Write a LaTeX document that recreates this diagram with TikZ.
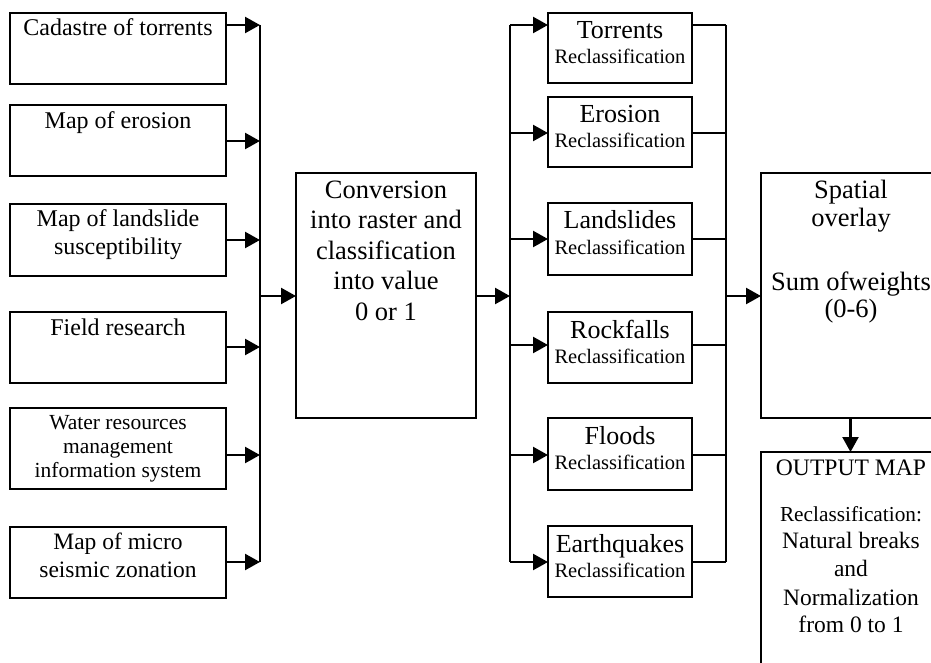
\documentclass[tikz,border=0pt]{standalone}
\usepackage{fontspec}
\setmainfont{Liberation Serif}
\usetikzlibrary{arrows.meta}
\begin{document}
\begin{tikzpicture}[x=1pt,y=-1pt,
  box/.style={draw, line width=2.3pt, inner sep=0pt, outer sep=0pt, anchor=north west},
  ln/.style={line width=2.3pt},
  arr/.style={line width=2.3pt, -{Triangle[length=15pt,width=16pt]}},
  txt/.style={anchor=base, inner sep=0pt, outer sep=0pt},
  fa/.style={txt, font=\fontsize{24}{28}\selectfont},
  fw/.style={txt, font=\fontsize{21.5}{24}\selectfont},
  fm/.style={txt, font=\fontsize{23.5}{28}\selectfont},
  fc/.style={txt, font=\fontsize{26.5}{30}\selectfont},
  fn/.style={txt, font=\fontsize{26}{30}\selectfont},
  fr/.style={txt, font=\fontsize{20.5}{24}\selectfont},
  fo/.style={txt, font=\fontsize{23.6}{28}\selectfont},
  fs/.style={txt, font=\fontsize{21.3}{26}\selectfont}]
\useasboundingbox (0,0) rectangle (931,663);
\clip (0,0) rectangle (931,663);

% input boxes
\node[box, minimum width=216pt, minimum height=71pt] (in1) at (10,13) {};
\node[box, minimum width=216pt, minimum height=71pt] (in2) at (10,105) {};
\node[box, minimum width=216pt, minimum height=72pt] (in3) at (10,204) {};
\node[box, minimum width=216pt, minimum height=71pt] (in4) at (10,312) {};
\node[box, minimum width=216pt, minimum height=81pt] (in5) at (10,408) {};
\node[box, minimum width=216pt, minimum height=71pt] (in6) at (10,527) {};

\node[fa] (t1) at (118,36) {Cadastre of torrents};
\node[fa] (t2) at (118,129) {Map of erosion};
\node[fa] (t3a) at (118,226) {Map of landslide};
\node[fa] (t3b) at (118,254) {susceptibility};
\node[fa] (t4) at (118,335) {Field research};
\node[fw] (t5a) at (118,429) {Water resources};
\node[fw] (t5b) at (118,453) {management};
\node[fw] (t5c) at (118,477) {information system};
\node[fm] (t6a) at (118,549) {Map of micro};
\node[fm] (t6b) at (118,577) {seismic zonation};

% first bus
\coordinate (a1) at (260,25);
\coordinate (a2) at (260,141);
\coordinate (a3) at (260,240);
\coordinate (a4) at (260,347);
\coordinate (a5) at (260,455);
\coordinate (a6) at (260,562);
\coordinate (ac) at (260,296);
\draw[ln] (a1) -- (a6);
\foreach \i in {1,...,6} \draw[arr] (a\i -| in\i.east) -- (a\i);

% conversion box
\node[box, minimum width=180pt, minimum height=245pt] (conv) at (296,173) {};
\node[fc] (c1) at (386,199) {Conversion};
\node[fc] (c2) at (386,229) {into raster and};
\node[fc] (c3) at (386,259) {classification};
\node[fc] (c4) at (386,289) {into value};
\node[fc] (c5) at (386,320) {0 or 1};
\draw[arr] (ac) -- (ac -| conv.west);

% second bus
\coordinate (bc) at (510,296);
\coordinate (b1) at (510,25);
\coordinate (b2) at (510,133);
\coordinate (b3) at (510,239);
\coordinate (b4) at (510,345);
\coordinate (b5) at (510,455);
\coordinate (b6) at (510,562);
\draw[arr] (bc -| conv.east) -- (bc);
\draw[ln] (b1) -- (b6);

% reclassification boxes
\node[box, minimum width=144pt, minimum height=70pt] (m1) at (548,13) {};
\node[box, minimum width=144pt, minimum height=70pt] (m2) at (548,97) {};
\node[box, minimum width=144pt, minimum height=72pt] (m3) at (548,203) {};
\node[box, minimum width=144pt, minimum height=71pt] (m4) at (548,312) {};
\node[box, minimum width=144pt, minimum height=72pt] (m5) at (548,418) {};
\node[box, minimum width=144pt, minimum height=71pt] (m6) at (548,526) {};
\foreach \i in {1,...,6} \draw[arr] (b\i) -- (b\i -| m\i.west);

\node[fn] (n1) at (620,39) {Torrents};
\node[fr] (r1) at (620,64) {Reclassification};
\node[fn] (n2) at (620,123) {Erosion};
\node[fr] (r2) at (620,148) {Reclassification};
\node[fn] (n3) at (620,229) {Landslides};
\node[fr] (r3) at (620,254) {Reclassification};
\node[fn] (n4) at (620,338) {Rockfalls};
\node[fr] (r4) at (620,363) {Reclassification};
\node[fn] (n5) at (620,444) {Floods};
\node[fr] (r5) at (620,469) {Reclassification};
\node[fn] (n6) at (620,552) {Earthquakes};
\node[fr] (r6) at (620,577) {Reclassification};

% third bus
\coordinate (d1) at (726,25);
\coordinate (d2) at (726,133);
\coordinate (d3) at (726,239);
\coordinate (d4) at (726,345);
\coordinate (d5) at (726,455);
\coordinate (d6) at (726,562);
\coordinate (dc) at (726,296);
\foreach \i in {1,...,6} \draw[ln] (d\i -| m\i.east) -- (d\i);
\draw[ln] (d1) -- (d6);

% spatial overlay
\node[box, minimum width=179pt, minimum height=245pt] (sp) at (761,173) {};
\draw[arr] (dc) -- (dc -| sp.west);
\node[fc] (s1) at (851,199) {Spatial};
\node[fc] (s2) at (851,226) {overlay};
\node[fc] (s3) at (851,290) {Sum ofweights};
\node[fc] (s4) at (851,317) {(0-6)};

% output map
\node[box, minimum width=179pt, minimum height=270pt] (out) at (761,452) {};
\draw[arr] (sp.south) -- (out.north);
\node[fo] (o1) at (851,475) {OUTPUT MAP};
\node[fs] (o2) at (851,521) {Reclassification:};
\node[fm] (o3) at (851,548) {Natural breaks};
\node[fm] (o4) at (851,576) {and};
\node[fm] (o5) at (851,605) {Normalization};
\node[fm] (o6) at (851,632) {from 0 to 1};
\end{tikzpicture}
\end{document}
